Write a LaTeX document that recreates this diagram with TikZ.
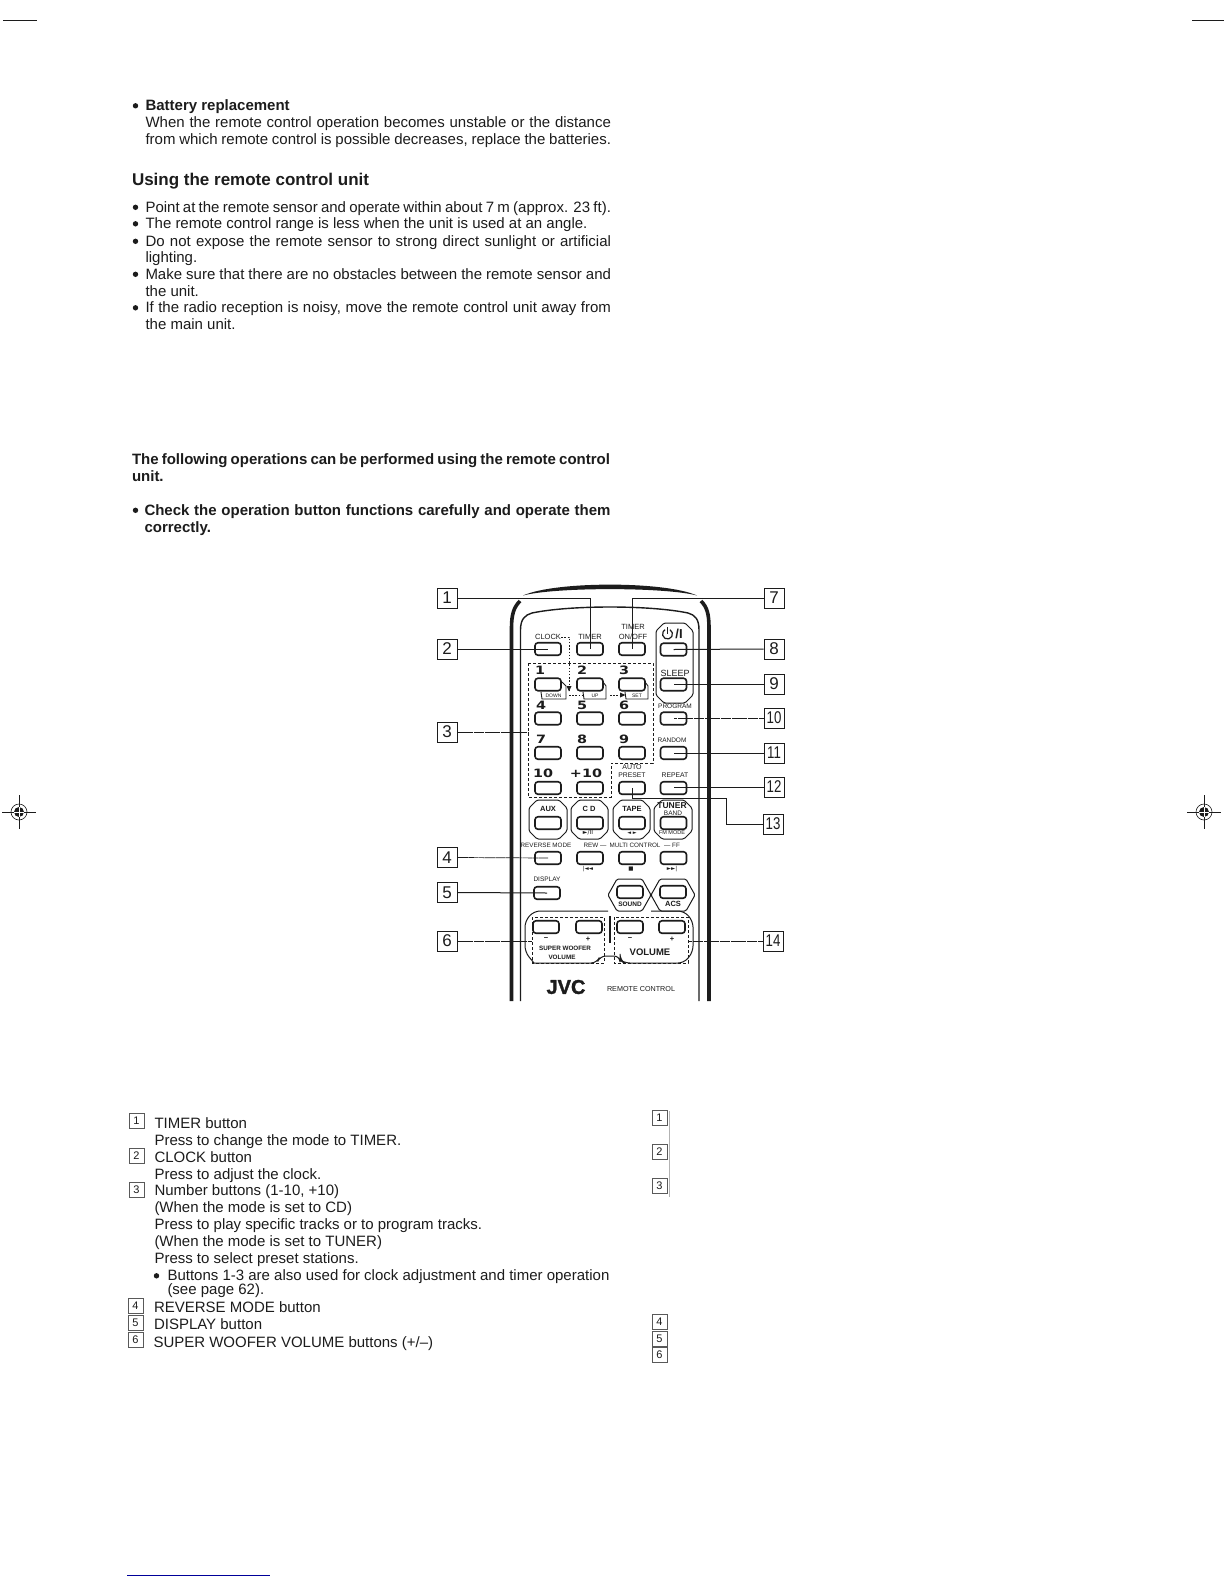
\documentclass[tikz,border=0pt]{standalone}
\usepackage{fontspec}
\setmainfont{Liberation Sans}
\newfontfamily\djv{DejaVu Sans}
\newfontfamily\jvcf[BoldFeatures={FakeBold=1.5}]{Liberation Sans}
\usetikzlibrary{arrows.meta}
\definecolor{ink}{HTML}{1C1C1C}
\newcount\tnum
\newcommand\tline[3]{\global\advance\tnum by 1 \node[txt] (t\the\tnum) at (#1,#2+5.6) {#3};}
\newcommand\jline[4]{\global\advance\tnum by 1 \node[txt] (t\the\tnum) at (#1,#2+5.6) {\makebox[#3pt][s]{#4}};}
\newcommand\bline[2]{\fill[ink] (#1+1.5,#2+0.8) circle (2.7);}
\newcommand\octo[5]{\draw[grp] (#1+#5,#2) -- (#3-#5,#2) -- (#3,#2+#5) -- (#3,#4-#5) -- (#3-#5,#4) -- (#1+#5,#4) -- (#1,#4-#5) -- (#1,#2+#5) -- cycle;}
\newcommand\numbox[3]{\node[lab] (#1) at (#2) {#3};}
\newcommand\smtxt[3]{\node[tinytxt] (#1) at (#2) {#3};}
\newcommand\regmark[1]{
  \begin{scope}[shift={(#1)}]
    \draw[ink,line width=0.5] (-17,0) -- (17,0) (0,-17) -- (0,17);
    \draw[ink,line width=0.6] (0,0) circle (8);
    \fill[ink] (0,0) circle (5);
    \draw[white,line width=0.7] (-5,0) -- (5,0) (0,-5) -- (0,5);
  \end{scope}}
\tikzset{
  txt/.style={anchor=base west,inner sep=0,outer sep=0,text=ink,font=\fontsize{15}{16}\selectfont},
  lab/.style={draw=ink,line width=1,minimum width=20,minimum height=20,inner sep=0,text=ink,font=\fontsize{17}{18}\selectfont},
  lst/.style={draw=black!65,line width=0.9,minimum width=15,minimum height=15,inner sep=0,text=ink,font=\fontsize{11}{12}\selectfont},
  btn/.style={draw=ink,line width=1.6,rounded corners=3,minimum width=26,minimum height=12.5,inner sep=0},
  tinytxt/.style={inner sep=0,text=ink,font=\fontsize{7.5}{8}\selectfont},
  big/.style={inner sep=0,text=ink,font=\djv\bfseries\fontsize{11.5}{12}\selectfont},
  grp/.style={draw=ink,line width=1,rounded corners=1.5},
  conn/.style={draw=ink,line width=1},
  thinconn/.style={draw=ink,line width=0.7,dash pattern=on 5pt off 0.4pt},
  dsh/.style={draw=ink,line width=0.8,dash pattern=on 3pt off 2pt},
  dotl/.style={draw=ink,line width=0.8,dash pattern=on 1.5pt off 1.7pt},
}
\newcommand\wdr[1]{\scalebox{1.25}[1]{#1}}
\newcommand\nrw[1]{\scalebox{0.78}[1]{#1}}
\begin{document}
\begin{tikzpicture}[x=1pt,y=-1pt]
\useasboundingbox (0,0) rectangle (1224,1584);
\fill[white] (0,0) rectangle (1224,1584);
% crop marks
\draw[ink,line width=0.7] (3,20) -- (37,20) (1192,20) -- (1224,20);
\regmark{19,812}
\regmark{1204,812}
\draw[blue!60!black,line width=0.8] (127,1575) -- (270,1575);
% top text
\bline{134}{105}
\tline{145.5}{105}{\bfseries Battery replacement}
\jline{145.5}{121.5}{465.5}{When the remote control operation becomes unstable or the distance}
\jline{145.5}{138.5}{465.5}{from which remote control is possible decreases, replace the batteries.}
\tline{132}{180}{\bfseries\fontsize{17}{18}\selectfont Using the remote control unit}
\bline{134}{206.5}
\jline{145.5}{206.5}{465.5}{Point at the remote sensor and operate within about 7 m (approx. 23 ft).}
\bline{134}{223}
\tline{145.5}{223}{The remote control range is less when the unit is used at an angle.}
\bline{134}{240.5}
\jline{145.5}{240.5}{465.5}{Do not expose the remote sensor to strong direct sunlight or artificial}
\tline{145.5}{257}{lighting.}
\bline{134}{273.5}
\jline{145.5}{273.5}{465.5}{Make sure that there are no obstacles between the remote sensor and}
\tline{145.5}{290.5}{the unit.}
\bline{134}{307}
\jline{145.5}{307}{465.5}{If the radio reception is noisy, move the remote control unit away from}
\tline{145.5}{324}{the main unit.}
\jline{132}{459}{478}{\bfseries The following operations can be performed using the remote control}
\tline{132}{476}{\bfseries unit.}
\bline{134}{509.5}
\jline{144.5}{509.5}{466}{\bfseries Check the operation button functions carefully and operate them}
\tline{144.5}{526.5}{\bfseries correctly.}
% remote body
\fill[ink] (523,595.5) .. controls (555,581) and (665,581) .. (697,595.5) .. controls (665,587) and (555,587) .. (523,595.5) -- cycle;
\draw[ink,line width=3.6] (511.5,1001) -- (511.5,628) .. controls (511.5,614) and (514,607) .. (520,601);
\draw[ink,line width=3.6] (709,1001) -- (709,628) .. controls (709,614) and (707,607) .. (701,601);
\draw[ink,line width=1.4] (520.5,1001) -- (520.5,630) .. controls (520.5,619) and (525,615) .. (532,613) .. controls (570,605) and (650,605) .. (688,613) .. controls (695,615) and (699,619) .. (699,630) -- (699,1001);
% groups
\octo{656}{623}{693}{703}{8}
\octo{529}{800}{567}{839}{8}
\octo{571}{800}{608}{839}{8}
\octo{613}{800}{650}{839}{8}
\octo{654}{800}{692}{839}{8}
\draw[grp] (608,895) -- (617,879) -- (642,879) -- (651,895) -- (642,911) -- (617,911) -- cycle;
\draw[grp] (651,895) -- (660,879) -- (686,879) -- (695,895) -- (686,911) -- (660,911) -- cycle;
% volume block
\draw[grp,rounded corners=6] (534,963) -- (525,952) -- (525,921) -- (534,911) -- (608,911);
\draw[grp,rounded corners=6] (651,911) -- (684,911) -- (693,921) -- (693,952) -- (684,963) -- (624,963) -- (620,960) -- (620,956) -- (600,956) -- (597,963) -- (534,963);
\draw[ink,line width=1.6] (610,916) -- (610,943);
\draw[dsh] (532,917) rectangle (604,963);
\draw[dsh] (614,917) rectangle (688,963);
% number group dashed
\draw[dsh] (528,663) -- (653,663) -- (653,763) -- (611,763) -- (611,797) -- (528,797) -- cycle;
% buttons
\node[btn] (bclock) at (548,649) {};
\node[btn] (btimer) at (590,649) {};
\node[btn] (bonoff) at (632,649) {};
\node[btn] (bpower) at (673.5,649.5) {};
\node[btn] (b1) at (548,684.5) {};
\node[btn] (b2) at (590,684.5) {};
\node[btn] (b3) at (632,684.5) {};
\node[btn] (bsleep) at (673.5,684.5) {};
\node[btn] (b4) at (548,718.5) {};
\node[btn] (b5) at (590,718.5) {};
\node[btn] (b6) at (632,718.5) {};
\node[btn] (bprog) at (673.5,718.5) {};
\node[btn] (b7) at (548,753) {};
\node[btn] (b8) at (590,753) {};
\node[btn] (b9) at (632,753) {};
\node[btn] (brand) at (673.5,753) {};
\node[btn] (b10) at (548,788) {};
\node[btn] (bp10) at (590,788) {};
\node[btn] (bpreset) at (632,788) {};
\node[btn] (brep) at (673.5,788) {};
\node[btn] (baux) at (548,823) {};
\node[btn] (bcd) at (590,823) {};
\node[btn] (btape) at (632,823) {};
\node[btn] (btuner) at (673.5,823) {};
\node[btn] (brev) at (548,858) {};
\node[btn] (brew) at (590,858) {};
\node[btn] (bstop) at (632,858) {};
\node[btn] (bff) at (673.5,858) {};
\node[btn] (bdisp) at (547,893) {};
\node[btn] (bsound) at (630,892) {};
\node[btn] (bacs) at (673,892) {};
\node[btn] (bsm) at (546,927) {};
\node[btn] (bsp) at (589,927) {};
\node[btn] (bvm) at (630,927) {};
\node[btn] (bvp) at (672,927) {};
% button tags
\draw[ink,line width=0.9] (541,692) -- (542,699) -- (566,699) -- (566,686) -- (562,682);
\draw[ink,line width=0.9] (583,692) -- (584,699) -- (606,699) -- (606,686) -- (603,682);
\draw[ink,line width=0.9] (625,692) -- (626,699) -- (648,699) -- (648,686) -- (645,682);
% remote labels
\smtxt{tclock}{548,637}{CLOCK}
\smtxt{ttimer}{590,637}{TIMER}
\smtxt{ttimera}{633,627}{TIMER}
\smtxt{tonoff}{633,637}{ON/OFF}
\smtxt{tsleep}{675,673}{\fontsize{9}{10}\selectfont SLEEP}
\smtxt{tprog}{675,706}{\fontsize{6.5}{7}\selectfont PROGRAM}
\smtxt{trand}{672,740}{\fontsize{6.5}{7}\selectfont RANDOM}
\smtxt{tauto}{632,767}{\fontsize{7}{8}\selectfont AUTO}
\smtxt{tpreset}{632,775}{\fontsize{6.8}{8}\selectfont PRESET}
\smtxt{trep}{675,775}{\fontsize{6.8}{8}\selectfont REPEAT}
\node[big] (n1) at (540,670) {\wdr{1}};
\node[big] (n2) at (582,670) {\wdr{2}};
\node[big] (n3) at (624,670) {\wdr{3}};
\node[big] (n4) at (541,705) {\wdr{4}};
\node[big] (n5) at (582,705) {\wdr{5}};
\node[big] (n6) at (624,705) {\wdr{6}};
\node[big] (n7) at (541,739) {\wdr{7}};
\node[big] (n8) at (582,739) {\wdr{8}};
\node[big] (n9) at (624,739) {\wdr{9}};
\node[big] (n10) at (543,773) {\wdr{10}};
\node[big] (np10) at (586,773) {\wdr{+10}};
\smtxt{tdown}{553.5,695.5}{\fontsize{5}{6}\selectfont DOWN}
\smtxt{tup}{595,695.5}{\fontsize{5}{6}\selectfont UP}
\smtxt{tset}{637,695.5}{\fontsize{5}{6}\selectfont SET}
\smtxt{taux}{548,809}{\bfseries AUX}
\smtxt{tcd}{589,809}{\bfseries C D}
\smtxt{ttape}{632,809}{\bfseries TAPE}
\smtxt{ttuner}{672,806}{\bfseries\fontsize{8.5}{9}\selectfont TUNER}
\smtxt{tband}{673,813}{\fontsize{6.5}{7}\selectfont BAND}
\smtxt{tplay}{588,833}{\djv\fontsize{6}{7}\selectfont ►/II}
\smtxt{tdir}{632,833}{\djv\fontsize{5}{7}\selectfont ◄ ►}
\smtxt{tfm}{672,833}{\fontsize{5.5}{7}\selectfont FM MODE}
\smtxt{trevm}{546,845}{\fontsize{6.3}{7}\selectfont REVERSE MODE}
\smtxt{trew}{595,845}{\fontsize{6.3}{7}\selectfont REW ---}
\smtxt{tmulti}{635,845}{\fontsize{6.3}{7}\selectfont MULTI  CONTROL}
\smtxt{tff}{672,845}{\fontsize{6.3}{7}\selectfont --- FF}
\smtxt{tprev}{588,869}{\djv\fontsize{5.5}{7}\selectfont |◄◄}
\smtxt{tstop}{631,869}{\djv\fontsize{5.5}{7}\selectfont ■}
\smtxt{tnext}{672,869}{\djv\fontsize{5.5}{7}\selectfont ►►|}
\smtxt{tdisp}{547,879}{\fontsize{6.5}{7}\selectfont DISPLAY}
\smtxt{tsound}{630,904}{\bfseries\fontsize{6.5}{7}\selectfont SOUND}
\smtxt{tacs}{673,904}{\bfseries ACS}
\smtxt{tm1}{546,939}{\bfseries −}
\smtxt{tp1}{588,939}{\bfseries +}
\smtxt{tm2}{630,939}{\bfseries −}
\smtxt{tp2}{672,939}{\bfseries +}
\smtxt{tsw}{565,948}{\bfseries\fontsize{6.3}{7}\selectfont SUPER WOOFER}
\smtxt{tswv}{562,957}{\bfseries\fontsize{6.3}{7}\selectfont VOLUME}
\smtxt{tvol}{650,952}{\bfseries\fontsize{9.5}{10}\selectfont VOLUME}
\node[inner sep=0,text=ink,font=\jvcf\bfseries\fontsize{20}{21}\selectfont] (jvc) at (566,987) {JVC};
\smtxt{trc}{641,989}{\fontsize{7.2}{8}\selectfont REMOTE CONTROL}
% power symbol
\draw[ink,line width=1.2] (670,629.7) arc[start angle=-60,end angle=240,radius=5];
\draw[ink,line width=1.2] (667.5,627) -- (667.5,634);
\node[inner sep=0,text=ink,font=\bfseries\fontsize{13}{14}\selectfont] (tpow) at (679,633.5) {/I};
% callouts
\numbox{l1}{447,598}{1}
\numbox{l2}{447,649}{2}
\numbox{l3}{447,732}{3}
\numbox{l4}{447,857.5}{4}
\numbox{l5}{447,892.5}{5}
\numbox{l6}{447,941}{6}
\numbox{l7}{774,598}{7}
\numbox{l8}{774,649}{8}
\numbox{l9}{774,684}{9}
\numbox{l10}{774,718}{\nrw{10}}
\numbox{l11}{774,753}{\nrw{11}}
\numbox{l12}{774,787}{\nrw{12}}
\numbox{l13}{773,824}{\nrw{13}}
\numbox{l14}{773,941}{\nrw{14}}
\draw[conn] (l1.east) -| (btimer.center);
\draw[conn] (l7.west) -| (bonoff.center);
\draw[conn] (l2.east) -- (bclock.center);
\coordinate (c3) at (528,732);
\draw[thinconn] (l3.east) -- (c3);
\draw[thinconn] (l4.east) -- (brev.center);
\draw[conn] (l5.east) -- (bdisp.center);
\coordinate (c6) at (532,941);
\coordinate (c14) at (688,941);
\draw[thinconn] (l6.east) -- (c6);
\draw[thinconn] (l14.west) -- (c14);
\draw[conn] (l8.west) -- (bpower.center);
\draw[conn] (l9.west) -- (bsleep.center |- l9.west);
\draw[thinconn] (l10.west) -- (bprog.center |- l10.west);
\draw[conn] (l11.west) -- (brand.center |- l11.west);
\draw[conn] (l12.west) -- (brep.center |- l12.west);
\coordinate (c13) at (726,798);
\draw[conn] (bpreset.center) |- (c13) |- (l13.west);
% dotted arrows
\coordinate (d1) at (569,637);
\coordinate (d2) at (569,691);
\coordinate (d3) at (569,695);
\coordinate (d4) at (583,695);
\coordinate (d5) at (610,695);
\coordinate (d6) at (625,695);
\draw[dotl] (tclock.east) -- (d1) -- (d2);
\fill[ink] (566.5,686) -- (571.5,686) -- (569,691.5) -- cycle;
\draw[dotl] (d3) -- (d4);
\draw[dotl] (d5) -- (d6);
\fill[ink] (620,692.5) -- (625.5,695) -- (620,697.5) -- cycle;
% bottom list
\node[lst] (q1) at (136.5,1121) {1};
\node[lst] (q2) at (136.5,1155.5) {2};
\node[lst] (q3) at (136.5,1190) {3};
\node[lst] (q4) at (135.5,1306) {4};
\node[lst] (q5) at (135.5,1323) {5};
\node[lst] (q6) at (135.5,1340) {6};
\node[lst] (r1) at (659.5,1118) {1};
\node[lst] (r2) at (659.5,1152) {2};
\node[lst] (r3) at (659.5,1186) {3};
\node[lst] (r4) at (659.5,1322) {4};
\node[lst] (r5) at (659.5,1338.5) {5};
\node[lst] (r6) at (659.5,1355) {6};
\draw[black!30,line width=0.8] (669,1111) -- (669,1197);
\tline{154.5}{1122.5}{TIMER button}
\tline{154.5}{1139.5}{Press to change the mode to TIMER.}
\tline{154.5}{1156.5}{CLOCK button}
\tline{154.5}{1173.5}{Press to adjust the clock.}
\tline{154.5}{1190}{Number buttons (1-10, +10)}
\tline{154.5}{1207}{(When the mode is set to CD)}
\tline{154.5}{1224}{Press to play specific tracks or to program tracks.}
\tline{154.5}{1240.5}{(When the mode is set to TUNER)}
\tline{154.5}{1257.5}{Press to select preset stations.}
\bline{155}{1275}
\tline{167.5}{1275}{Buttons 1-3 are also used for clock adjustment and timer operation}
\tline{167.5}{1289}{(see page 62).}
\tline{154}{1307}{REVERSE MODE button}
\tline{154}{1324}{DISPLAY button}
\tline{153.5}{1341.5}{SUPER WOOFER VOLUME buttons (+/--)}
\end{tikzpicture}
\end{document}
